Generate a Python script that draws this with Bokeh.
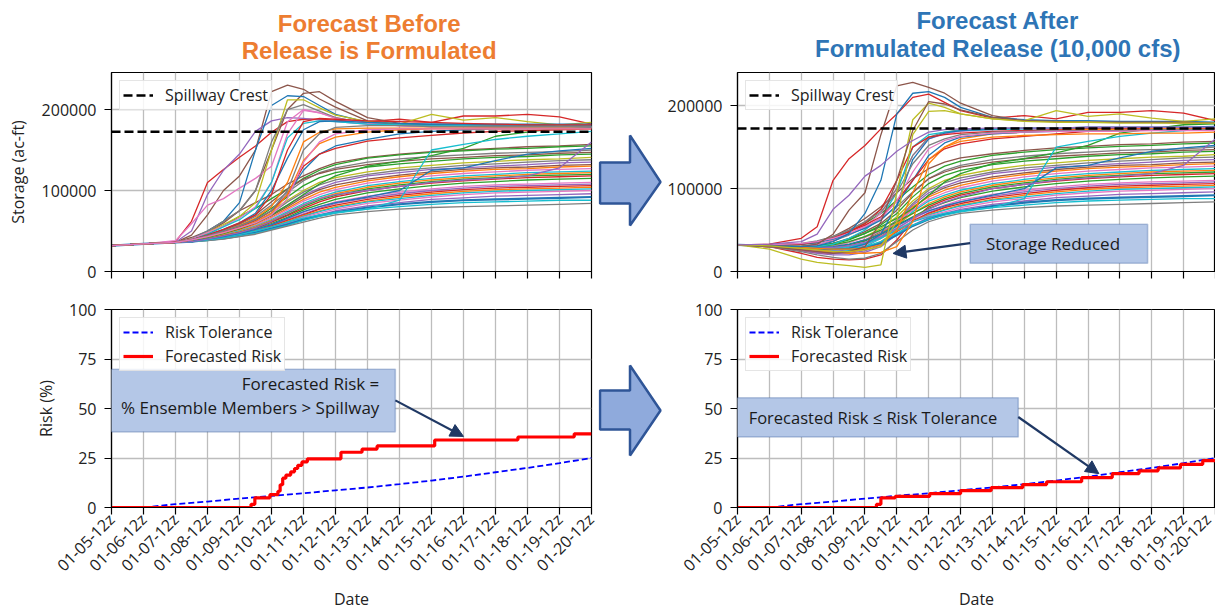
import math
from bokeh.plotting import figure
from bokeh.layouts import row, column
from bokeh.models import (ColumnDataSource, FixedTicker, Legend, LegendItem,
                          BoxAnnotation, Label, Arrow, NormalHead, Range1d,
                          BasicTickFormatter)
from bokeh.embed import file_html
from bokeh.resources import INLINE

# ------------------------------------------------------------------ data
# forecast time axis, in days after 01-05-12z
days = [0, 1, 2, 2.5, 3, 3.5, 4, 4.5, 5, 5.5, 6, 6.5, 7, 8, 9, 10, 11, 12, 13, 14, 15]
date_ticks = [0, 1, 2, 3, 4, 5, 6, 7, 8, 9, 10, 11, 12, 13, 14, 15]
date_labels = ["01-05-12z", "01-06-12z", "01-07-12z", "01-08-12z", "01-09-12z",
               "01-10-12z", "01-11-12z", "01-12-12z", "01-13-12z", "01-14-12z",
               "01-15-12z", "01-16-12z", "01-17-12z", "01-18-12z", "01-19-12z",
               "01-20-12z"]
storage_ticks = [0, 100000, 200000]
risk_ticks = [0, 25, 50, 75, 100]
spillway_crest = 172500  # ac-ft

# ensemble storage traces (thousand ac-ft) -- BEFORE release is formulated
before_upper = [
    [32, 34, 37, 62, 110, 126, 141, 155, 172, 185, 188, 188, 187, 185, 188, 184, 192, 192, 194, 191, 182],
    [32, 34, 36, 45, 70, 100, 118, 150, 222, 230, 225, 213, 203, 186, 182, 181, 180, 180, 180, 179, 179],
    [32, 34, 36, 40, 48, 60, 75, 100, 150, 200, 220, 222, 210, 190, 183, 181, 180, 180, 180, 180, 179],
    [32, 34, 36, 50, 95, 125, 145, 173, 186, 190, 189, 187, 185, 182, 180, 179, 179, 179, 179, 178, 178],
    [32, 34, 38, 59, 82, 90, 103, 115, 130, 185, 200, 196, 190, 183, 180, 179, 179, 178, 178, 178, 178],
    [32, 34, 36, 40, 50, 62, 85, 150, 205, 217, 216, 205, 194, 184, 182, 182, 182, 181, 181, 181, 180],
    [32, 34, 36, 40, 48, 58, 68, 85, 150, 212, 212, 202, 193, 185, 182, 194, 187, 190, 185, 181, 184],
    [32, 34, 36, 40, 50, 62, 75, 100, 160, 200, 206, 198, 190, 183, 181, 180, 180, 179, 179, 179, 179],
    [32, 34, 36, 40, 48, 56, 66, 80, 110, 170, 199, 196, 189, 183, 180, 179, 179, 178, 178, 178, 178],
    [32, 34, 36, 39, 46, 55, 64, 78, 110, 165, 183, 186, 185, 182, 181, 180, 180, 179, 179, 179, 179],
    [32, 34, 36, 39, 45, 52, 60, 72, 100, 140, 175, 185, 186, 184, 183, 182, 182, 182, 182, 182, 182],
    [32, 34, 36, 39, 45, 52, 60, 70, 95, 150, 185, 189, 188, 186, 185, 184, 183, 182, 181, 181, 181],
    [32, 34, 36, 39, 44, 50, 57, 66, 80, 110, 160, 172, 176, 177, 177, 177, 177, 177, 177, 177, 177],
    [32, 34, 36, 39, 44, 50, 56, 64, 75, 95, 125, 145, 155, 163, 170, 173, 175, 176, 176, 176, 177],
    [32, 34, 36, 39, 44, 49, 55, 63, 75, 95, 130, 145, 152, 161, 165, 168, 171, 173, 174, 175, 176],
    [32, 34, 36, 39, 43, 48, 54, 61, 72, 95, 137, 158, 166, 172, 175, 176, 176, 176, 176, 176, 176],
    [32, 34, 36, 39, 44, 50, 56, 64, 75, 100, 150, 170, 178, 180, 180, 179, 179, 179, 179, 179, 179],
    [32, 34, 36, 39, 43, 48, 54, 60, 70, 90, 135, 160, 170, 175, 176, 176, 176, 176, 176, 176, 176],
]
before_upper_colors = ["red", "brown", "brown", "purple", "pink", "blue", "olive", "gray", "pink",
                       "cyan", "blue", "red", "orange", "blue", "red", "orange", "gray", "pink"]

before_late = [
    [32, 34, 36, 38, 42, 47, 53, 60, 70, 82, 95, 108, 118, 130, 136, 143, 152, 167, 172, 177, 178],
    [32, 34, 36, 37, 39, 42, 46, 50, 55, 61, 66, 70, 73, 77, 88, 150, 157, 163, 167, 170, 173],
    [32, 34, 36, 37, 40, 43, 47, 52, 58, 66, 74, 80, 85, 92, 100, 125, 128, 137, 145, 149, 152],
    [32, 34, 36, 37, 40, 44, 48, 54, 62, 72, 82, 90, 95, 100, 105, 110, 113, 115, 118, 128, 160],
]
late_colors = ["green", "cyan", "blue", "purple"]

before_plateau = [
    [32, 34, 36, 42, 50, 62, 75, 85, 95, 108, 118, 127, 134, 141, 145, 148, 150, 152, 154, 155, 157],
    [32, 34, 36, 40, 46, 56, 68, 78, 90, 102, 115, 125, 132, 140, 144, 147, 149, 151, 152, 154, 155],
    [32, 34, 36, 39, 44, 50, 58, 68, 82, 98, 112, 122, 128, 135, 139, 142, 144, 146, 147, 148, 150],
    [32, 34, 36, 39, 44, 51, 59, 70, 86, 102, 114, 121, 126, 132, 136, 139, 141, 143, 144, 146, 147],
    [32, 34, 36, 38, 43, 49, 56, 65, 78, 92, 106, 116, 122, 129, 133, 136, 139, 141, 142, 144, 145],
    [32, 34, 36, 38, 43, 48, 55, 63, 75, 88, 100, 110, 116, 123, 128, 131, 134, 136, 138, 139, 141],
    [32, 34, 36, 38, 42, 47, 53, 61, 72, 86, 98, 107, 113, 120, 125, 128, 131, 133, 135, 137, 138],
    [32, 34, 36, 38, 42, 47, 53, 60, 70, 82, 94, 103, 110, 118, 122, 126, 128, 130, 132, 134, 135],
    [32, 34, 36, 38, 42, 46, 52, 59, 69, 80, 92, 101, 107, 114, 119, 123, 126, 128, 129, 131, 132],
    [32, 34, 36, 38, 42, 46, 51, 58, 67, 78, 89, 98, 104, 112, 117, 121, 124, 126, 127, 129, 130],
    [32, 34, 36, 38, 41, 45, 50, 57, 66, 76, 87, 95, 101, 109, 114, 118, 121, 123, 125, 126, 127],
    [32, 34, 36, 38, 41, 45, 50, 56, 64, 74, 84, 92, 98, 106, 111, 115, 118, 120, 122, 123, 124],
    [32, 34, 36, 37, 41, 45, 49, 55, 63, 72, 82, 90, 96, 104, 109, 113, 116, 118, 120, 121, 122],
    [32, 34, 36, 37, 40, 44, 48, 54, 62, 70, 80, 88, 94, 102, 107, 111, 114, 116, 118, 119, 120],
    [32, 34, 36, 37, 40, 44, 48, 53, 61, 69, 78, 86, 92, 100, 105, 109, 112, 114, 116, 117, 118],
    [32, 34, 36, 37, 40, 43, 47, 52, 59, 67, 76, 83, 89, 97, 102, 106, 109, 111, 113, 114, 115],
    [32, 34, 36, 37, 40, 43, 47, 52, 58, 65, 73, 80, 86, 93, 98, 102, 105, 107, 108, 109, 110],
    [32, 34, 36, 37, 39, 43, 46, 51, 57, 64, 71, 78, 84, 91, 96, 100, 103, 105, 106, 107, 108],
    [32, 34, 36, 37, 39, 42, 46, 50, 56, 63, 70, 77, 82, 89, 94, 98, 101, 103, 104, 105, 106],
    [32, 34, 36, 37, 39, 42, 45, 50, 55, 62, 69, 75, 80, 87, 92, 96, 99, 101, 102, 103, 104],
    [32, 34, 36, 37, 39, 42, 45, 49, 54, 61, 68, 74, 79, 86, 90, 94, 97, 99, 100, 101, 102],
    [32, 34, 36, 37, 39, 42, 45, 49, 54, 60, 67, 72, 77, 84, 88, 92, 95, 97, 98, 99, 100],
    [32, 34, 36, 37, 39, 41, 44, 48, 53, 59, 65, 70, 75, 81, 85, 89, 91, 93, 94, 95, 96],
    [32, 34, 36, 37, 39, 41, 44, 48, 53, 58, 64, 69, 73, 79, 83, 86, 88, 89, 90, 91, 92],
    [32, 34, 36, 37, 38, 41, 44, 47, 52, 57, 63, 68, 72, 77, 80, 83, 85, 86, 87, 88, 88],
    [32, 34, 36, 37, 38, 40, 43, 46, 51, 56, 61, 66, 70, 74, 77, 79, 80, 81, 82, 83, 84],
]
plateau_colors = ["brown", "green", "gray", "brown", "green", "olive", "gray", "purple", "brown",
                  "orange", "pink", "cyan", "orange", "green", "red", "green", "pink", "purple",
                  "red", "orange", "cyan", "pink", "purple", "blue", "cyan", "gray"]

# ensemble storage traces (thousand ac-ft) -- AFTER formulated release (10,000 cfs)
after_upper = [
    [32, 33, 40, 54, 110, 136, 152, 172, 190, 210, 214, 204, 194, 185, 188, 184, 192, 192, 194, 191, 182],
    [32, 31, 30, 33, 45, 74, 95, 165, 224, 228, 222, 215, 203, 188, 182, 181, 180, 180, 180, 179, 179],
    [32, 31, 30, 31, 36, 46, 70, 110, 190, 215, 217, 210, 198, 186, 183, 182, 182, 181, 181, 181, 180],
    [32, 27, 15, 11, 9, 7, 5, 8, 95, 183, 203, 198, 190, 184, 182, 194, 187, 190, 185, 181, 184],
    [32, 30, 26, 24, 22, 24, 30, 60, 110, 170, 205, 202, 195, 186, 182, 181, 180, 180, 180, 180, 179],
    [32, 31, 28, 26, 24, 24, 26, 30, 60, 165, 193, 194, 190, 184, 181, 180, 180, 179, 179, 179, 179],
    [32, 33, 36, 45, 75, 92, 115, 128, 145, 158, 168, 171, 172, 173, 173, 173, 174, 174, 174, 174, 174],
]
after_upper_colors = ["red", "brown", "blue", "olive", "brown", "olive", "purple"]

after_cluster = [
    [32, 31, 30, 32, 38, 45, 55, 70, 100, 140, 160, 166, 169, 171, 172, 172, 173, 173, 173, 173, 173],
    [32, 32, 33, 36, 42, 50, 60, 75, 100, 140, 162, 168, 171, 173, 173, 173, 173, 173, 173, 173, 173],
    [32, 31, 29, 30, 33, 40, 50, 65, 95, 150, 165, 168, 170, 171, 172, 172, 172, 172, 172, 172, 172],
    [32, 31, 28, 27, 27, 28, 33, 45, 80, 135, 160, 167, 170, 172, 173, 173, 174, 174, 174, 174, 175],
    [32, 32, 33, 35, 40, 48, 58, 75, 110, 150, 162, 165, 167, 169, 170, 171, 172, 172, 173, 173, 173],
    [32, 31, 28, 26, 24, 22, 22, 23, 30, 60, 130, 150, 160, 166, 168, 170, 171, 171, 172, 172, 172],
    [32, 32, 33, 35, 39, 45, 52, 62, 80, 110, 140, 155, 162, 166, 168, 169, 170, 170, 171, 171, 171],
    [32, 32, 33, 36, 41, 48, 56, 66, 85, 110, 135, 148, 154, 160, 163, 166, 169, 170, 171, 171, 172],
    [32, 31, 29, 28, 27, 27, 28, 32, 50, 95, 135, 150, 157, 162, 164, 165, 166, 166, 167, 167, 168],
    [32, 32, 34, 37, 42, 50, 60, 72, 95, 130, 152, 160, 165, 168, 169, 170, 170, 170, 171, 171, 171],
    [32, 32, 34, 36, 40, 46, 54, 64, 85, 120, 148, 158, 163, 167, 168, 169, 169, 169, 170, 170, 170],
]
after_cluster_colors = ["pink", "gray", "cyan", "blue", "red", "orange", "blue", "red", "orange",
                        "gray", "pink"]

after_late = [
    [32, 31, 30, 31, 34, 39, 46, 54, 64, 76, 92, 108, 118, 130, 136, 143, 152, 167, 172, 177, 178],
    [32, 31, 29, 28, 28, 30, 34, 41, 50, 60, 66, 70, 73, 77, 88, 150, 157, 163, 167, 170, 173],
    [32, 31, 29, 29, 30, 33, 38, 45, 55, 65, 73, 79, 84, 92, 100, 125, 128, 137, 145, 149, 152],
    [32, 31, 29, 28, 29, 31, 35, 42, 52, 64, 75, 84, 90, 100, 105, 110, 113, 115, 118, 128, 160],
]

after_plateau = [
    [32, 32, 33, 36, 42, 52, 64, 78, 95, 112, 124, 132, 137, 142, 146, 149, 151, 153, 154, 156, 157],
    [32, 32, 33, 35, 40, 48, 58, 70, 86, 102, 117, 127, 133, 140, 144, 147, 149, 151, 152, 154, 155],
    [32, 31, 31, 33, 37, 44, 53, 64, 78, 96, 112, 122, 128, 135, 139, 142, 144, 146, 147, 148, 150],
    [32, 31, 30, 31, 34, 40, 48, 58, 74, 95, 112, 120, 126, 132, 136, 139, 141, 143, 144, 146, 147],
    [32, 31, 30, 31, 33, 38, 46, 56, 70, 90, 106, 116, 122, 129, 133, 136, 139, 141, 142, 144, 145],
    [32, 31, 29, 29, 31, 35, 42, 52, 66, 85, 100, 110, 116, 123, 128, 131, 134, 136, 138, 139, 141],
    [32, 31, 28, 27, 28, 32, 38, 48, 62, 82, 98, 107, 113, 120, 125, 128, 131, 133, 135, 137, 138],
    [32, 31, 28, 27, 28, 31, 37, 46, 60, 80, 95, 103, 110, 118, 122, 126, 128, 130, 132, 134, 135],
    [32, 30, 26, 24, 24, 27, 33, 42, 56, 76, 92, 101, 107, 114, 119, 123, 126, 128, 129, 131, 132],
    [32, 30, 27, 25, 25, 28, 34, 44, 58, 78, 90, 98, 104, 112, 117, 121, 124, 126, 127, 129, 130],
    [32, 31, 29, 29, 31, 35, 41, 49, 60, 74, 87, 95, 101, 109, 114, 118, 121, 123, 125, 126, 127],
    [32, 30, 26, 24, 23, 25, 30, 40, 55, 72, 85, 92, 98, 106, 111, 115, 118, 120, 122, 123, 124],
    [32, 31, 29, 28, 29, 32, 38, 46, 57, 70, 82, 90, 96, 104, 109, 113, 116, 118, 120, 121, 122],
    [32, 31, 30, 30, 32, 36, 42, 50, 60, 70, 80, 88, 94, 102, 107, 111, 114, 116, 118, 119, 120],
    [32, 30, 22, 17, 15, 14, 15, 20, 38, 62, 78, 86, 92, 100, 105, 109, 112, 114, 116, 117, 118],
    [32, 31, 29, 28, 29, 32, 37, 45, 56, 66, 76, 83, 89, 97, 102, 106, 109, 111, 113, 114, 115],
    [32, 30, 27, 25, 25, 27, 32, 40, 52, 63, 73, 80, 86, 93, 98, 102, 105, 107, 108, 109, 110],
    [32, 30, 25, 22, 20, 20, 23, 30, 45, 60, 71, 78, 84, 91, 96, 100, 103, 105, 106, 107, 108],
    [32, 30, 26, 23, 22, 23, 27, 35, 48, 61, 70, 77, 82, 89, 94, 98, 101, 103, 104, 105, 106],
    [32, 30, 26, 24, 23, 24, 28, 36, 49, 60, 69, 75, 80, 87, 92, 96, 99, 101, 102, 103, 104],
    [32, 31, 28, 27, 27, 29, 33, 40, 50, 60, 68, 74, 79, 86, 90, 94, 97, 99, 100, 101, 102],
    [32, 31, 29, 28, 28, 31, 35, 42, 51, 60, 67, 72, 77, 84, 88, 92, 95, 97, 98, 99, 100],
    [32, 30, 26, 23, 22, 22, 25, 32, 44, 56, 65, 70, 75, 81, 85, 89, 91, 93, 94, 95, 96],
    [32, 31, 29, 28, 27, 27, 29, 34, 44, 55, 63, 69, 73, 79, 83, 86, 88, 89, 90, 91, 92],
    [32, 31, 28, 26, 26, 27, 30, 36, 46, 56, 63, 68, 72, 77, 80, 83, 85, 86, 87, 88, 88],
    [32, 30, 24, 20, 17, 15, 16, 22, 36, 50, 60, 66, 70, 74, 77, 79, 80, 81, 82, 83, 84],
]

# risk (%)
risk_tol_days = [1, 2, 3, 4, 5, 6, 7, 8, 9, 10, 11, 12, 13, 14, 15]
risk_tolerance = [0, 1.7, 3.0, 4.5, 5.9, 7.2, 8.7, 10.1, 11.8, 13.6, 15.6, 17.8, 20.0, 22.4, 25.0]

before_risk_days = [0, 4.36, 4.48, 4.95, 5.2, 5.27, 5.35, 5.45, 5.6, 5.72, 5.82, 5.95, 6.12,
                    7.17, 7.83, 8.3, 10.1, 12.7, 14.46, 15]
before_risk = [0, 1.6, 4.9, 6.5, 8.2, 11.5, 14.8, 16.4, 18.0, 19.7, 21.3, 23.0, 24.6,
               27.9, 29.5, 31.1, 34.1, 35.6, 37.2, 37.2]

after_risk_days = [0, 4.36, 4.5, 4.95, 6.03, 7.0, 7.96, 8.95, 9.7, 10.8, 11.76, 12.6, 13.2,
                   13.9, 14.6, 15]
after_risk = [0, 1.6, 4.9, 5.6, 7.0, 8.5, 10.0, 11.6, 13.0, 15.1, 17.1, 18.5, 20.0,
              21.8, 23.7, 23.7]

# ------------------------------------------------------------------ style
FONT = "Open Sans"
TAB10 = {"blue": "#1f77b4", "orange": "#ff7f0e", "green": "#2ca02c", "red": "#d62728",
         "purple": "#9467bd", "brown": "#8c564b", "pink": "#e377c2", "gray": "#7f7f7f",
         "olive": "#bcbd22", "cyan": "#17becf"}
GRID = "#bdbdbd"
TXT = "#222222"
BOX_FILL = "#b4c7e7"
BOX_LINE = "#2f5597"
NAVY = "#1f3864"
THICK_PLATEAU = 23  # index of the heavier blue member

LEFT_W, MID_W, RIGHT_W = 598, 66, 551
TITLE_H, TOP_H, BOT_H = 65, 225, 323


def base_fig(width, height, x_end, y_end, bl, br, bt, bb):
    p = figure(width=width, height=height, x_range=Range1d(0, x_end),
               y_range=Range1d(0, y_end), output_backend="svg", toolbar_location=None,
               min_border_left=bl, min_border_right=br, min_border_top=bt,
               min_border_bottom=bb)
    p.outline_line_color = "black"
    p.outline_line_width = 1.2
    p.xaxis.ticker = FixedTicker(ticks=date_ticks)
    p.grid.grid_line_color = GRID
    p.grid.grid_line_width = 1.3
    for ax in p.axis:
        ax.axis_line_color = "black"
        ax.axis_line_width = 1.2
        ax.major_tick_line_color = "black"
        ax.major_tick_line_width = 1.2
        ax.major_tick_out = 7
        ax.major_tick_in = 0
        ax.minor_tick_out = 0
        ax.minor_tick_in = 0
        ax.major_label_text_font = FONT
        ax.major_label_text_font_size = "16px"
        ax.major_label_text_color = TXT
        ax.axis_label_text_font = FONT
        ax.axis_label_text_font_size = "16px"
        ax.axis_label_text_font_style = "normal"
        ax.axis_label_text_color = TXT
    p.yaxis.major_label_standoff = 8
    return p


def style_legend(leg):
    leg.location = "top_left"
    leg.margin = 8
    leg.padding = 3
    leg.spacing = 2
    leg.label_text_font = FONT
    leg.label_text_font_size = "16px"
    leg.label_text_color = TXT
    leg.label_height = 21
    leg.glyph_width = 30
    leg.glyph_height = 16
    leg.label_standoff = 12
    leg.border_line_color = "#cccccc"
    leg.border_line_width = 1
    leg.background_fill_alpha = 0.85


def storage_panel(width, bl, br, x_end, y_end, groups, ylabel):
    p = base_fig(width, TOP_H, x_end, y_end, bl, br, 7, 19)
    p.yaxis.ticker = FixedTicker(ticks=storage_ticks)
    p.yaxis.formatter = BasicTickFormatter(use_scientific=False)
    p.xaxis.major_label_overrides = {t: "" for t in date_ticks}
    p.xaxis.major_label_standoff = 0
    if ylabel:
        p.yaxis.axis_label = ylabel
        p.yaxis.axis_label_standoff = 10
    xs, ys, cols, widths = [], [], [], []
    for rows, colors, thick in groups:
        for i, (vals, c) in enumerate(zip(rows, colors)):
            xs.append(days)
            ys.append([v * 1000 for v in vals])
            cols.append(TAB10[c])
            widths.append(2.2 if i == thick else 1.3)
    src = ColumnDataSource(dict(xs=xs, ys=ys, color=cols, width=widths))
    p.multi_line("xs", "ys", source=src, line_color="color", line_width="width")
    spill = p.line([days[0], days[-1]], [spillway_crest, spillway_crest], line_color="black",
                   line_width=2.6, line_dash="9 4")
    leg = Legend(items=[LegendItem(label="Spillway Crest", renderers=[spill])])
    style_legend(leg)
    p.add_layout(leg)
    return p


def risk_panel(width, bl, br, x_end, rdays, rvals, ylabel):
    p = base_fig(width, BOT_H, x_end, 100, bl, br, 19, 105)
    p.yaxis.ticker = FixedTicker(ticks=risk_ticks)
    p.xaxis.major_label_overrides = dict(zip(date_ticks, date_labels))
    p.xaxis.major_label_orientation = math.pi / 4
    p.xaxis.major_label_standoff = 2
    p.xaxis.axis_label = "Date"
    p.xaxis.axis_label_standoff = 2
    if ylabel:
        p.yaxis.axis_label = ylabel
        p.yaxis.axis_label_standoff = 9
    tol = p.line(risk_tol_days, risk_tolerance, line_color="#0000ff", line_width=1.8,
                 line_dash="6 3")
    fr = p.step(rdays, rvals, mode="after", line_color="#ff0000", line_width=3.2)
    leg = Legend(items=[LegendItem(label="Risk Tolerance", renderers=[tol]),
                        LegendItem(label="Forecasted Risk", renderers=[fr])])
    style_legend(leg)
    p.add_layout(leg)
    return p


def callout(p, left, right, bottom, top):
    p.add_layout(BoxAnnotation(left=left, right=right, bottom=bottom, top=top,
                               fill_color=BOX_FILL, fill_alpha=1.0,
                               line_color=BOX_LINE, line_width=1.6, level="annotation"))


def pointer(p, x0, y0, x1, y1):
    p.add_layout(Arrow(end=NormalHead(size=13, fill_color=NAVY, line_color=NAVY),
                       x_start=x0, y_start=y0, x_end=x1, y_end=y1,
                       line_color=NAVY, line_width=2.2))


def note(p, x, y, text, align, size):
    p.add_layout(Label(x=x, y=y, text=text, text_align=align, text_baseline="middle",
                       text_font=FONT, text_font_size=size, text_color="#1a1a1a"))


def title_fig(width, cx, lines, color):
    p = figure(width=width, height=TITLE_H, x_range=Range1d(0, width),
               y_range=Range1d(0, TITLE_H), output_backend="svg", toolbar_location=None,
               min_border=0)
    p.axis.visible = False
    p.grid.visible = False
    p.outline_line_color = None
    for y, t in lines:
        p.add_layout(Label(x=cx, y=y, text=t, text_align="center", text_baseline="middle",
                           text_font="Liberation Sans", text_font_style="bold",
                           text_font_size="24px", text_color=color))
    return p


# ------------------------------------------------------------------ left side
title_l = title_fig(LEFT_W, 321, [(42, "Forecast Before"), (15, "Release is Formulated")],
                    "#ed7d31")
top_l = storage_panel(LEFT_W, 111, 7, 15, 245700,
                      [(before_plateau, plateau_colors, THICK_PLATEAU),
                       (before_late, late_colors, -1),
                       (before_upper, before_upper_colors, -1)], "Storage (ac-ft)")
bot_l = risk_panel(LEFT_W, 111, 7, 15, before_risk_days, before_risk, "Risk (%)")
callout(bot_l, -0.31, 8.87, 38.2, 69.8)
note(bot_l, 8.37, 62.8, "Forecasted Risk =", "right", "17px")
note(bot_l, 8.37, 50.3, "% Ensemble Members > Spillway", "right", "17px")
pointer(bot_l, 8.87, 54.1, 11.0, 35.9)

# ------------------------------------------------------------------ middle arrows
MID_H = TITLE_H + TOP_H + BOT_H
mid = figure(width=MID_W, height=MID_H, x_range=Range1d(0, MID_W),
             y_range=Range1d(0, MID_H), output_backend="svg",
             toolbar_location=None, min_border=0)
mid.axis.visible = False
mid.grid.visible = False
mid.outline_line_color = None
arrow_x = [1.5, 1.5, 31.5, 31.5, 62, 31.5, 31.5]
mid.patch(arrow_x, [410, 451, 451, 478, 431.5, 388, 410], fill_color="#8faadc",
          line_color=BOX_LINE, line_width=2.5)
mid.patch(arrow_x, [184, 223, 223, 248, 203, 158, 184], fill_color="#8faadc",
          line_color=BOX_LINE, line_width=2.5)

# ------------------------------------------------------------------ right side
title_r = title_fig(RIGHT_W, 300, [(45, "Forecast After"), (17, "Formulated Release (10,000 cfs)")],
                    "#2e75b6")
top_r = storage_panel(RIGHT_W, 73, 0, 15, 240000,
                      [(after_plateau, plateau_colors, THICK_PLATEAU),
                       (after_late, late_colors, -1),
                       (after_cluster, after_cluster_colors, -1),
                       (after_upper, after_upper_colors, -1)], None)
callout(top_r, 7.3, 12.87, 10000, 56900)
note(top_r, 9.9, 33800, "Storage Reduced", "center", "17px")
pointer(top_r, 7.3, 34200, 4.88, 21800)

bot_r = risk_panel(RIGHT_W, 73, 0, 15, after_risk_days, after_risk, None)
callout(bot_r, -0.36, 8.81, 35.6, 55.4)
note(bot_r, 4.25, 45.7, "Forecasted Risk \u2264 Risk Tolerance", "center", "16.5px")
pointer(bot_r, 8.81, 45.7, 11.34, 17.1)

layout = row(column(title_l, top_l, bot_l), mid, column(title_r, top_r, bot_r))

open("out.html", "w").write(file_html(layout, INLINE))
